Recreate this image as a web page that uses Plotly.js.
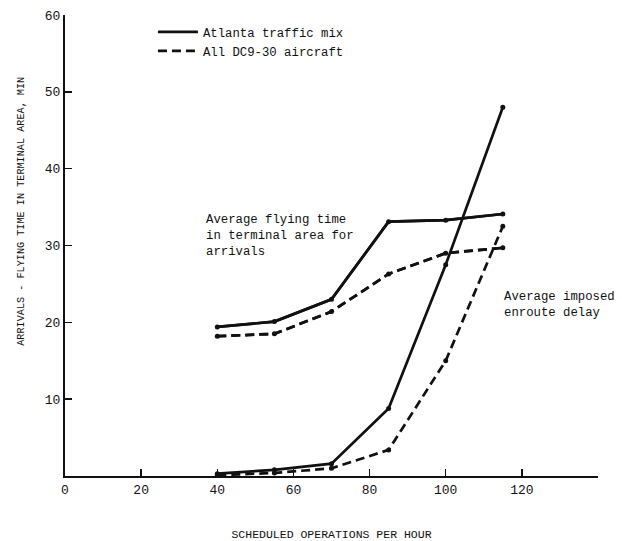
<!DOCTYPE html>
<html>
<head>
<meta charset="utf-8">
<script src="https://cdn.plot.ly/plotly-3.0.1.min.js"></script>
<style>html,body{margin:0;padding:0;background:#fff;}#chart{width:622px;height:541px;}</style>
</head>
<body>
<div id="chart"></div>
<script>
// Scheduled operations per hour
var ops = [40, 55, 70, 85, 100, 115];
// Average flying time in terminal area for arrivals (min)
var flyAtlanta = [19.4, 20.1, 23.0, 33.1, 33.3, 34.1];
var flyDC9 = [18.2, 18.5, 21.4, 26.3, 29.0, 29.7];
// Average imposed enroute delay (min)
var delayAtlanta = [0.3, 0.8, 1.6, 8.8, 27.5, 48.0];
var delayDC9 = [0.1, 0.4, 1.0, 3.4, 15.0, 32.5];

var xTickVals = [0, 20, 40, 60, 80, 100, 120, 140];
var xTickText = ['0', '20', '40', '60', '80', '100', '120', ''];
var yTickVals = [0, 10, 20, 30, 40, 50, 60];
var yTickText = ['', '10', '20', '30', '40', '50', '60'];

var seriesNames = ['Atlanta traffic mix', 'All DC9-30 aircraft'];

var FONT = 'Liberation Mono, DejaVu Sans Mono, monospace';
var INK = '#111';

function tr(y, name, dashed, mode, show) {
  return {
    x: ops, y: y, type: 'scatter', mode: mode, name: name,
    showlegend: show,
    line: {color: INK, width: 2.7, dash: dashed ? '9px,5px' : 'solid'},
    marker: {color: INK, size: 5}
  };
}

var data = [
  tr(flyAtlanta, seriesNames[0], false, 'lines', true),
  tr(flyDC9, seriesNames[1], true, 'lines', true),
  tr(flyAtlanta, seriesNames[0], false, 'lines+markers', false),
  tr(flyDC9, seriesNames[1], true, 'lines+markers', false),
  tr(delayAtlanta, seriesNames[0], false, 'lines+markers', false),
  tr(delayDC9, seriesNames[1], true, 'lines+markers', false)
];

var layout = {
  width: 622, height: 541,
  margin: {l: 65, r: 24, t: 15, b: 65},
  paper_bgcolor: '#fff', plot_bgcolor: '#fff',
  font: {family: FONT, color: INK, size: 12},
  showlegend: true,
  legend: {x: 0.165, y: 0.995, xanchor: 'left', yanchor: 'top',
           bgcolor: 'rgba(0,0,0,0)', font: {family: FONT, size: 12.3, color: INK},
           tracegroupgap: 2, itemwidth: 40},
  xaxis: {
    range: [0, 140], tickmode: 'array', tickvals: xTickVals, ticktext: xTickText,
    ticks: 'inside', ticklen: 7, tickwidth: 1.5, tickcolor: INK,
    showline: true, linecolor: INK, linewidth: 2, showgrid: false, zeroline: false,
    tickfont: {family: FONT, size: 13, color: INK},
    title: {text: 'SCHEDULED OPERATIONS PER HOUR', standoff: 40,
            font: {family: FONT, size: 11.5, color: INK}}
  },
  yaxis: {
    range: [0, 60], tickmode: 'array', tickvals: yTickVals, ticktext: yTickText,
    ticks: 'inside', ticklen: 7, tickwidth: 1.5, tickcolor: INK,
    showline: true, linecolor: INK, linewidth: 2, showgrid: false, zeroline: false,
    tickfont: {family: FONT, size: 13, color: INK}
  },
  annotations: [
    {xref: 'paper', yref: 'paper', x: -0.095, y: 0.575, textangle: -90,
     text: 'ARRIVALS - FLYING TIME IN TERMINAL AREA, MIN', showarrow: false,
     font: {family: FONT, size: 10.2, color: INK}},
    {xref: 'x', yref: 'y', x: 36.5, y: 31.2, xanchor: 'left', yanchor: 'middle', align: 'left',
     text: 'Average flying time<br>in terminal area for<br>arrivals', showarrow: false,
     font: {family: FONT, size: 12.3, color: INK}},
    {xref: 'x', yref: 'y', x: 114.8, y: 22.2, xanchor: 'left', yanchor: 'middle', align: 'left',
     text: 'Average imposed<br>enroute delay', showarrow: false,
     font: {family: FONT, size: 12.3, color: INK}}
  ]
};

Plotly.newPlot('chart', data, layout, {displayModeBar: false, staticPlot: true});
</script>
</body>
</html>
